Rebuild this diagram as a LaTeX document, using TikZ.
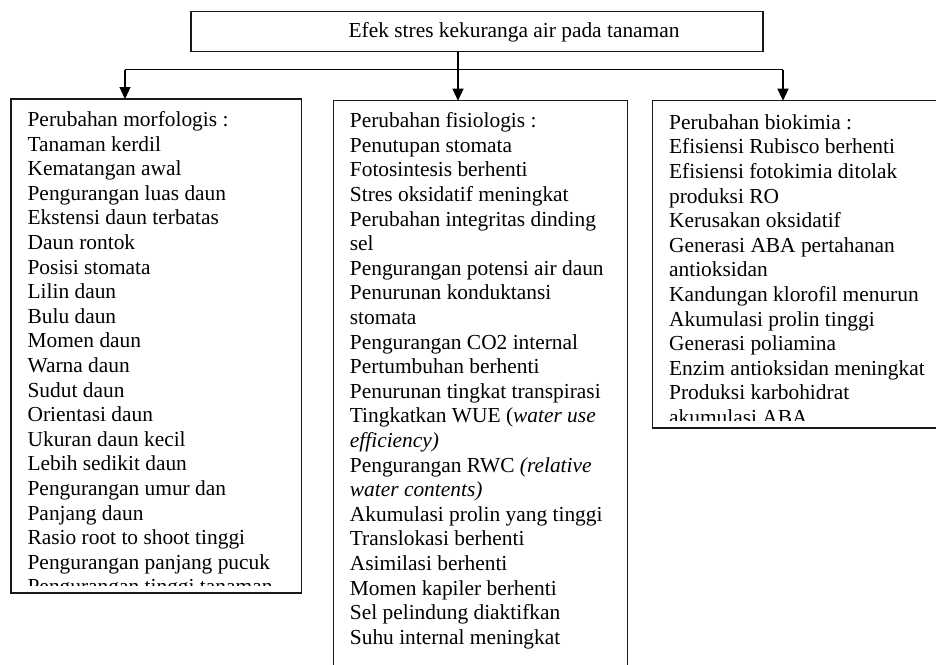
\documentclass[tikz,border=0pt]{standalone}
\usepackage{fontspec}
\setmainfont{Liberation Serif}
\usetikzlibrary{arrows.meta}
\begin{document}
\begin{tikzpicture}[x=1pt,y=-1pt,line width=1.2pt,
  box/.style={draw=black!90,anchor=north west,inner sep=0pt,outer sep=0pt},
  txt/.style={anchor=base west,inner sep=0pt,font=\fontsize{21.4}{24.6}\selectfont},
  arr/.style={-{Triangle[width=11pt,length=12pt]}}]
\useasboundingbox (0,0) rectangle (936,664);
\clip (0,0) rectangle (936,664);
\fill[white] (0,0) rectangle (936,664);
% boxes
\node[box,minimum width=572pt,minimum height=40pt] (top) at (191,11.7) {};
\node[box,minimum width=290.7pt,minimum height=494pt] (left) at (11,99) {};
\node[box,minimum width=294.2pt,minimum height=600pt] (mid) at (333.5,100.7) {};
\node[box,minimum width=300pt,minimum height=327.3pt] (right) at (652.7,100.7) {};
% title
\node[txt] (title) at (348,37.5) {Efek stres kekuranga air pada tanaman};
% connectors
\coordinate (cl) at (125,69.5);
\coordinate (cm) at (458,69.5);
\coordinate (cr) at (783,69.5);
\draw (cl) -- (cr);
\draw[arr] (top.south -| cm) -- (mid.north -| cm);
\draw[arr] (cl) -- (left.north -| cl);
\draw[arr] (cr) -- (right.north -| cr);
% left text
\begin{scope}
\clip (11,99) rectangle (302,585);
\foreach \t [count=\i] in {{Perubahan morfologis :},{Tanaman kerdil},{Kematangan awal},{Pengurangan luas daun},{Ekstensi daun terbatas},{Daun rontok},{Posisi stomata},{Lilin daun},{Bulu daun},{Momen daun},{Warna daun},{Sudut daun},{Orientasi daun},{Ukuran daun kecil},{Lebih sedikit daun},{Pengurangan umur dan},{Panjang daun},{Rasio root to shoot tinggi},{Pengurangan panjang pucuk},{Pengurangan tinggi tanaman}}
  \node[txt] (L\i) at (27,126.5+24.6*\i-24.6) {\t};
\end{scope}
% middle text
\foreach \t [count=\i] in {{Perubahan fisiologis :},{Penutupan stomata},{Fotosintesis berhenti},{Stres oksidatif meningkat},{Perubahan integritas dinding},{sel},{Pengurangan potensi air daun},{Penurunan konduktansi},{stomata},{Pengurangan CO2 internal},{Pertumbuhan berhenti},{Penurunan tingkat transpirasi},{Tingkatkan WUE (\textit{water use}},{\textit{efficiency)}},{Pengurangan RWC \textit{(relative}},{\textit{water contents)}},{Akumulasi prolin yang tinggi},{Translokasi  berhenti},{Asimilasi berhenti},{Momen kapiler berhenti},{Sel pelindung diaktifkan},{Suhu internal meningkat}}
  \node[txt] (M\i) at (349.3,127.7+24.6*\i-24.6) {\t};
% right text
\begin{scope}
\clip (652.7,100.7) rectangle (936,420);
\foreach \t [count=\i] in {{Perubahan biokimia :},{Efisiensi Rubisco berhenti},{Efisiensi fotokimia ditolak},{produksi RO},{Kerusakan oksidatif},{Generasi ABA pertahanan},{antioksidan},{Kandungan klorofil menurun},{Akumulasi prolin tinggi},{Generasi poliamina},{Enzim antioksidan meningkat},{Produksi karbohidrat},{akumulasi ABA}}
  \node[txt] (R\i) at (668.5,129.3+24.6*\i-24.6) {\t};
\end{scope}
\end{tikzpicture}
\end{document}
